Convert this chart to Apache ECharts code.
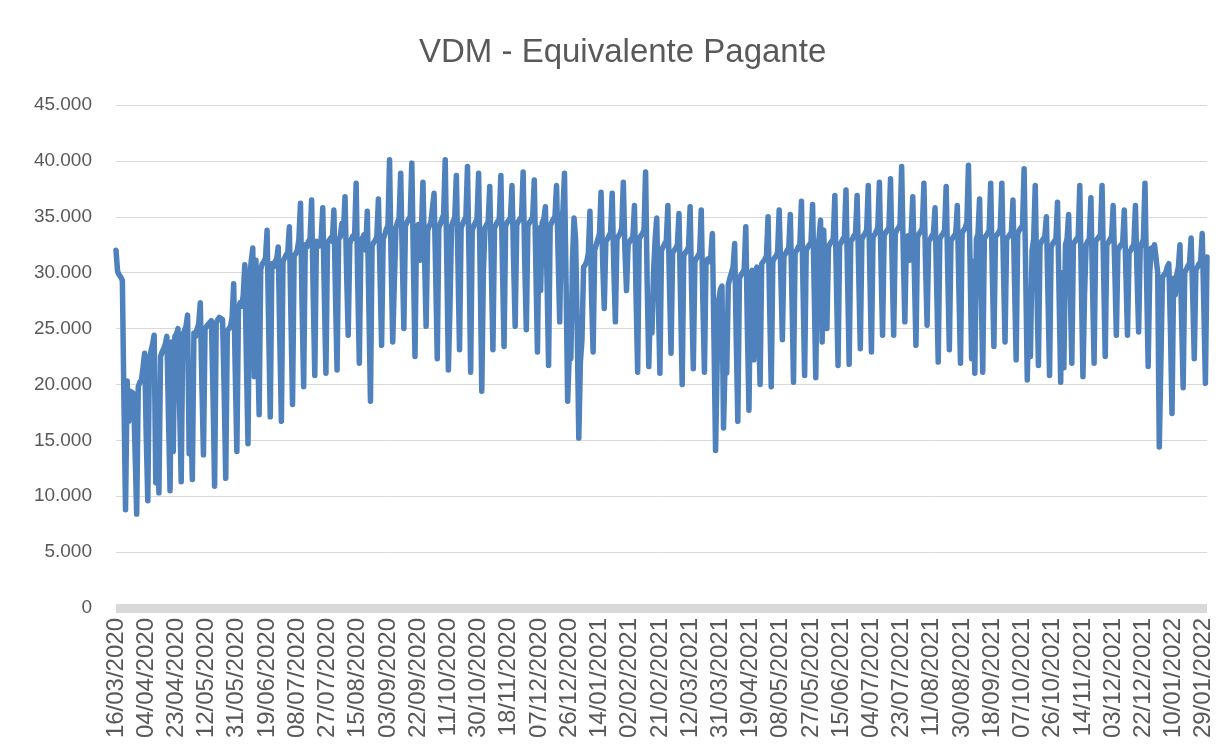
<!DOCTYPE html>
<html><head><meta charset="utf-8">
<script src="https://cdn.jsdelivr.net/npm/echarts@6/dist/echarts.min.js"></script>
<style>html,body{margin:0;padding:0;background:#fff}#c{width:1225px;height:751px}</style>
</head><body><div id="c"></div><script>
// Daily "Equivalente Pagante" values, one row per week (Mon..Sun), starting Monday 16/03/2020
const startDate = '2020-03-16';
const semanas2020 = [
[32000,30100,29800,29600,29300,18500,8800],
[20300,16700,19400,19300,19200,14000,8400],
[19800,20200,20400,21500,22800,15500,9600],
[22200,23000,23600,24400,11200,18000,10300],
[22500,22900,23200,23600,24300,17000,10500],
[23800,14000,24300,24500,25000,18000,11300],
[24400,24800,25200,26200,13800,17500,11500],
[24600,24300,25000,25400,27300,20000,13700],
[25000,25200,25400,25500,25700,19000,10900],
[25500,25800,26000,26100,25800,19500,11600],
[24800,25000,25200,26000,29000,21000,14000],
[26800,27300,27000,28000,30700,22000,14700],
[29500,31000,32200,20700,31100,24000,17300],
[30300,30800,31000,31300,33800,25000,17100],
[30800,30500,31000,31200,32300,24000,16700],
[31000,31300,31600,31800,34100,26000,18200],
[31500,31700,32000,33000,36200,27000,19800],
[32500,32300,32800,33000,36500,28000,20800],
[32800,32600,32400,33000,35800,28000,21000],
[32700,32900,33100,32800,35600,28000,21300],
[33000,33200,34400,33600,36800,30000,24400],
[32600,33000,33300,33100,38000,29000,21900],
[32800,33100,33400,32000,35500,27000,18500],
[32400,32700,32900,33200,36600,30000,23500],
[33000,33400,33900,34200,40100,31000,23800],
[29000,34000,34500,34900,38900,31500,25000],
[34200,34500,34800,35000,39800,31000,22500],
[34000,34300,31100,33500,38100,31500,25200],
[33800,34200,34500,34600,37100,30000,22300],
[34000,34400,34800,35200,40100,31000,21300],
[27000,34200,34600,34900,38700,31000,23100],
[34000,34400,34700,35000,39500,31000,21100],
[33800,34200,34500,34800,38900,30000,19400],
[30000,34000,34300,34500,37700,30500,23100],
[34000,34300,34600,34800,38700,30500,23400],
[34200,34500,34700,34900,37800,31000,25200],
[34300,34600,34800,35000,39000,31000,24900],
[34200,34500,34700,35000,38300,30500,22900],
[34000,28400,34500,34800,35900,29500,21700],
[34200,34500,34800,35000,37800,31500,25600],
[34500,35500,38900,29000,18500,22800,22300],
[31000,34900,33000,25000,15200,22000,24000]
];
const semanas2021 = [
[30500,30700,31000,31700,35500,28000,22900],
[32000,32500,33000,33500,37200,31000,26800],
[32800,33000,33300,33600,37100,30500,25600],
[33000,33300,33500,34000,38100,32000,28400],
[32500,32800,33000,33200,36000,28000,21100],
[33000,33300,33500,33800,39000,29000,21600],
[27000,24600,30000,33000,34900,27500,21000],
[32000,32300,32600,32800,36000,29000,22800],
[31800,32000,32200,32500,35300,27500,20000],
[31500,31800,32000,32300,35900,28000,21400],
[31000,31300,31500,31800,35600,27500,21100],
[31000,31200,31000,31500,33500,24000,14100],
[22000,27500,28500,28800,16100,22000,21000],
[28900,29500,30000,30500,32600,24000,16700],
[29500,29800,30000,30300,34100,25000,17700],
[29800,30200,22200,30000,30500,25000,20000],
[30800,31000,31200,31500,35000,27000,19800],
[31000,31300,31500,31800,35600,30000,24000],
[31500,31700,32000,32200,35200,28000,20200],
[31800,32000,32300,32500,36400,28500,20800],
[32000,32300,32500,32700,36100,28500,20600],
[32500,33000,34700,23800,33800,29000,25000],
[32300,32600,32800,33000,36900,29000,21700],
[32500,32700,33000,33200,37400,29500,21800],
[32800,33000,33300,33500,36900,30000,23200],
[33000,33300,33500,33800,37800,30000,22900],
[33200,33400,33700,34000,38100,31000,24400],
[33300,33600,33800,34000,38400,31000,24400],
[33500,33800,34000,34300,39500,32000,25600],
[33000,33300,31100,33500,36800,30000,23500],
[33200,33500,33700,34000,38000,31000,25300],
[32800,33000,33300,33500,35800,29000,22000],
[33000,33300,33500,33800,37700,30000,23100],
[32800,33100,33300,33500,36000,28500,21900],
[33500,33800,34000,34500,39600,31000,22300],
[31000,21000,33000,33500,36600,28500,21100],
[33000,33300,33500,33800,38000,30000,23400],
[33200,33400,33600,33900,38000,30500,23800],
[33000,33200,33400,33600,36500,29000,22200],
[33500,33800,34000,34200,39300,30000,20400],
[28000,22500,32000,33000,37800,29000,21700],
[32500,32800,33000,33200,35000,28000,20800],
[32300,32600,32800,33000,36300,28000,20200],
[30000,21500,32500,33000,35200,28500,21900],
[32600,32800,33000,33200,37800,29000,20700],
[28000,32500,32800,33000,36700,29000,21900],
[32800,33000,33200,33400,37800,30000,22500],
[32500,32700,33000,33200,36000,30500,24400],
[32000,32300,32500,32700,35600,30000,24400],
[31800,32000,32300,32500,36000,30000,24700],
[32200,32600,33000,38000,29500,21600,30000],
[32200,31500,32500,32400,30000,14400,22000]
];
const semanas2022 = [
[29600,29800,30000,30500,30800,25000,17400],
[29500,28000,29800,30500,32500,26000,19700],
[30000,30300,30600,30800,33100,28000,22300],
[30200,30500,30800,31000,33500,27000,20100],
[31400]
];
const yTickLabels = ['0','5.000','10.000','15.000','20.000','25.000','30.000','35.000','40.000','45.000'];
const xTickLabels = ['16/03/2020','04/04/2020','23/04/2020','12/05/2020','31/05/2020','19/06/2020','08/07/2020','27/07/2020','15/08/2020','03/09/2020','22/09/2020','11/10/2020','30/10/2020','18/11/2020','07/12/2020','26/12/2020','14/01/2021','02/02/2021','21/02/2021','12/03/2021','31/03/2021','19/04/2021','08/05/2021','27/05/2021','15/06/2021','04/07/2021','23/07/2021','11/08/2021','30/08/2021','18/09/2021','07/10/2021','26/10/2021','14/11/2021','03/12/2021','22/12/2021','10/01/2022','29/01/2022'];

const values = [].concat(...semanas2020, ...semanas2021, ...semanas2022);
const categories = [];
const d0 = new Date(startDate + 'T00:00:00Z');
for (let i = 0; i < values.length; i++) {
  const d = new Date(d0.getTime() + i * 86400000);
  const dd = String(d.getUTCDate()).padStart(2,'0');
  const mm = String(d.getUTCMonth()+1).padStart(2,'0');
  categories.push(dd + '/' + mm + '/' + d.getUTCFullYear());
}
const xSet = new Set(xTickLabels);
const chart = echarts.init(document.getElementById('c'), null, {renderer:'canvas'});
const FONT = 'Liberation Sans';
chart.setOption({
  animation:false,
  backgroundColor:'#ffffff',
  title:{text:'VDM - Equivalente Pagante', left:414, top:31,
    textStyle:{fontFamily:FONT, fontSize:33, fontWeight:'normal', color:'#595959'}},
  grid:{left:116, right:18, top:105, bottom:143, containLabel:false},
  xAxis:{type:'category', data:categories, boundaryGap:false,
    axisLine:{show:true, lineStyle:{color:'#d9d9d9', width:9, cap:'butt'}},
    axisTick:{show:false},
    axisLabel:{interval:18, rotate:90, margin:10, fontFamily:FONT, fontSize:24, color:'#595959',
      formatter:(v)=> xSet.has(v) ? v : ''},
    splitLine:{show:false}},
  yAxis:{type:'value', min:0, max:45000, interval:5000,
    axisLine:{show:false}, axisTick:{show:false},
    axisLabel:{margin:24, fontFamily:FONT, fontSize:19, color:'#595959',
      formatter:(v)=> yTickLabels[Math.round(v/5000)]},
    splitLine:{lineStyle:{color:'#d9d9d9', width:1}}},
  series:[{type:'line', data:values, showSymbol:false, symbol:'none',
    lineStyle:{color:'#4f81bd', width:5.5, join:'round', cap:'round'}}]
});
</script></body></html>
